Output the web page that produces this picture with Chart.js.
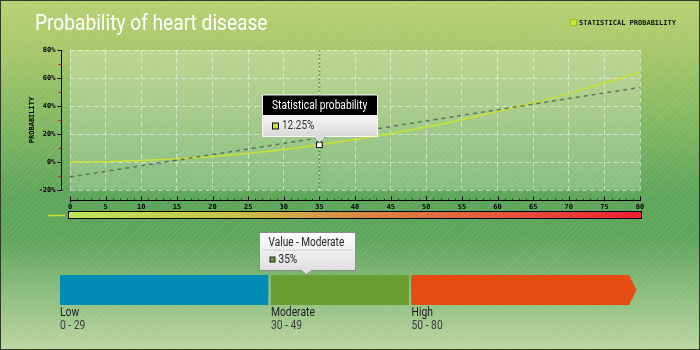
<!DOCTYPE html>
<html>
<head>
<meta charset="utf-8">
<script src="https://cdn.jsdelivr.net/npm/chart.js@4.4.0/dist/chart.umd.min.js"></script>
<style>
  html, body { margin: 0; padding: 0; }
  #wrap {
    position: relative; width: 700px; height: 350px; overflow: hidden;
    background:
      repeating-linear-gradient(135deg, rgba(255,255,255,0.07) 0 1px, rgba(255,255,255,0) 1px 4px),
      linear-gradient(to bottom, #b9d072 0%, #a6c86a 15%, #82b862 35%, #5ca55a 57%, #5ea55c 68%, #bcd6a2 100%);
    box-shadow: inset 0 0 0 1px #2e3a26;
  }
  #title {
    position: absolute; left: 35px; top: 10px; color: #fff;
    font: 22px Roboto, sans-serif; white-space: nowrap;
    transform: scaleX(0.87); transform-origin: left top;
  }
  #legend {
    position: absolute; left: 570px; top: 19px; white-space: nowrap;
    font: bold 7px "DejaVu Sans Mono", monospace; color: #111;
  }
  #legend i {
    display: inline-block; width: 5px; height: 5px; background: #c8e632;
    border: 1px solid #9fbb22; vertical-align: top; margin-right: 2px;
  }
  #legend span { vertical-align: top; line-height: 8px; }
  #c1 { position: absolute; left: 0; top: 0; }
  #c2 { position: absolute; left: 0; top: 230px; }
</style>
</head>
<body>
<div id="wrap">
  <canvas id="c1" width="700" height="230"></canvas>
  <canvas id="c2" width="700" height="120"></canvas>
  <div id="title">Probability of heart disease</div>
  <div id="legend"><i></i><span>STATISTICAL PROBABILITY</span></div>
</div>
<script>
// line chart data (age vs probability, %)
const probX = [0, 5, 10, 15, 20, 25, 30, 35, 40, 45, 50, 55, 60, 65, 70, 75, 80];
const probY = [0, 0.25, 1, 2.25, 4, 6.25, 9, 12.25, 16, 20.25, 25, 30.25, 36, 42.25, 49, 56.25, 64];
const trendX = [0, 80];
const trendY = [-10.7, 53.3];
const highlightX = 35;

// risk bands
const riskLevels = ['Low', 'Moderate', 'High'];
const riskRanges = ['0 - 29', '30 - 49', '50 - 80'];
const riskSpans = [30, 20, 31];
const currentValue = 35;
const currentLevel = 'Moderate';

const riskColors = ['#008cb4', '#6a9e32', '#e44c12'];
const lineColor = '#c8e232';

Chart.defaults.animation = false;

function condText(ctx, txt, x, y, size, color, sx, weight) {
  ctx.save();
  ctx.font = (weight || 'normal') + ' ' + size + 'px Roboto';
  ctx.fillStyle = color;
  ctx.textBaseline = 'alphabetic';
  ctx.textAlign = 'left';
  ctx.translate(x, y);
  ctx.scale(sx, 1);
  ctx.fillText(txt, 0, 0);
  ctx.restore();
}

const plotDeco = {
  id: 'plotDeco',
  beforeDraw(chart) {
    const a = chart.chartArea, ctx = chart.ctx;
    ctx.save();
    ctx.fillStyle = 'rgba(255,255,255,0.25)';
    ctx.fillRect(a.left, a.top, a.right - a.left, a.bottom - a.top);
    ctx.restore();
  },
  beforeDatasetsDraw(chart) {
    const a = chart.chartArea, ctx = chart.ctx;
    const px = Math.round(chart.scales.x.getPixelForValue(highlightX)) + 0.5;
    ctx.save();
    ctx.strokeStyle = 'rgba(60,95,50,0.6)';
    ctx.lineWidth = 1.5;
    ctx.setLineDash([2, 2]);
    ctx.beginPath();
    ctx.moveTo(px, a.top);
    ctx.lineTo(px, a.bottom);
    ctx.stroke();
    ctx.restore();
  },
  afterDraw(chart) {
    const ctx = chart.ctx, a = chart.chartArea;
    const xs = chart.scales.x, ys = chart.scales.y;
    ctx.save();
    ctx.lineWidth = 1;
    // y axis
    const ax = Math.round(a.left) - 9 + 0.5;
    ctx.strokeStyle = '#000';
    ctx.beginPath();
    ctx.moveTo(ax, ys.getPixelForValue(ys.max));
    ctx.lineTo(ax, ys.getPixelForValue(ys.min) + 0.5);
    ctx.stroke();
    ctx.font = 'bold 7px "DejaVu Sans Mono"';
    ctx.textAlign = 'right';
    ctx.textBaseline = 'middle';
    ctx.fillStyle = '#000';
    for (let v = ys.min; v <= ys.max; v += 10) {
      const py = Math.round(ys.getPixelForValue(v)) + 0.5;
      ctx.beginPath();
      if (v % 20 === 0) {
        ctx.strokeStyle = '#000';
        ctx.moveTo(ax - 4, py);
        ctx.lineTo(ax + 1, py);
        ctx.stroke();
        ctx.fillText(v + '%', ax - 6, py);
      } else {
        ctx.strokeStyle = '#e01010';
        ctx.moveTo(ax - 3, py);
        ctx.lineTo(ax, py);
        ctx.stroke();
      }
    }
    ctx.save();
    ctx.translate(32, (a.top + a.bottom) / 2);
    ctx.rotate(-Math.PI / 2);
    ctx.textAlign = 'center';
    ctx.fillText('PROBABILITY', 0, 0);
    ctx.restore();

    // x axis
    const ay = Math.round(a.bottom) + 10.5;
    const x0 = xs.getPixelForValue(xs.min), x1 = xs.getPixelForValue(xs.max);
    ctx.strokeStyle = '#000';
    ctx.beginPath();
    ctx.moveTo(x0, ay);
    ctx.lineTo(x1 + 1, ay);
    ctx.stroke();
    for (let v = xs.min; v <= xs.max; v++) {
      const px = Math.round(xs.getPixelForValue(v)) + 0.5;
      ctx.beginPath();
      if (v % 5 === 0) {
        ctx.moveTo(px, ay - 4);
        ctx.lineTo(px, ay + (v === 0 ? 2 : 0));
      } else {
        ctx.strokeStyle = 'rgba(0,0,0,0.6)';
        ctx.moveTo(px, ay - 2);
        ctx.lineTo(px, ay);
      }
      ctx.stroke();
      ctx.strokeStyle = '#000';
    }
    ctx.textAlign = 'center';
    ctx.textBaseline = 'middle';
    xs.ticks.forEach(t => {
      ctx.fillText(String(t.value), xs.getPixelForValue(t.value), ay + 6.5);
    });

    // gradient range bar
    const gy = ay + 11.5;
    const g = ctx.createLinearGradient(x0, 0, x1, 0);
    g.addColorStop(0, '#bde85a');
    g.addColorStop(0.3, '#c8bf4a');
    g.addColorStop(0.5, '#da8a44');
    g.addColorStop(0.75, '#e5593a');
    g.addColorStop(1, '#ee2030');
    ctx.fillStyle = g;
    ctx.fillRect(x0 - 1, gy, x1 - x0 + 2, 6);
    ctx.strokeStyle = '#000';
    ctx.strokeRect(Math.round(x0) - 1.5, gy - 0.5, Math.round(x1 - x0) + 3, 7);
    ctx.strokeStyle = lineColor;
    ctx.lineWidth = 1.5;
    ctx.beginPath();
    ctx.moveTo(48, gy + 3.5);
    ctx.lineTo(65, gy + 3.5);
    ctx.stroke();

    // tooltip on highlighted point
    const idx = probX.indexOf(highlightX);
    const pt = chart.getDatasetMeta(1).data[idx];
    const w = 115, hh = 20, bh = 21.5;
    const pX = Math.round(pt.x) + 0.5;
    const left = Math.round(pt.x - w / 2) + 0.5;
    const bottom = Math.round(pt.y - 9) + 0.5;
    const top = bottom - hh - bh;
    ctx.lineWidth = 1;
    ctx.beginPath();
    ctx.moveTo(left, top);
    ctx.lineTo(left + w, top);
    ctx.lineTo(left + w, bottom);
    ctx.lineTo(pX + 5, bottom);
    ctx.lineTo(pX, bottom + 5);
    ctx.lineTo(pX - 5, bottom);
    ctx.lineTo(left, bottom);
    ctx.closePath();
    const bg = ctx.createLinearGradient(0, top + hh, 0, bottom);
    bg.addColorStop(0, '#f6f6f6');
    bg.addColorStop(1, '#d9d9d9');
    ctx.fillStyle = bg;
    ctx.fill();
    ctx.fillStyle = '#000';
    ctx.fillRect(left, top, w, hh);
    ctx.strokeStyle = 'rgba(255,255,255,0.9)';
    ctx.stroke();
    condText(ctx, chart.data.datasets[1].label, left + 9.5, top + 14, 12, '#fff', 0.85);
    ctx.fillStyle = lineColor;
    ctx.fillRect(left + 10, top + hh + 8, 6, 6);
    ctx.strokeStyle = '#111';
    ctx.strokeRect(left + 10, top + hh + 8, 6, 6);
    condText(ctx, probY[idx] + '%', left + 19.5, top + hh + 14, 12, '#333', 0.83);
    ctx.restore();
  }
};

new Chart(document.getElementById('c1'), {
  type: 'line',
  data: {
    datasets: [
      {
        label: 'Trend',
        data: trendX.map((x, i) => ({ x: x, y: trendY[i] })),
        borderColor: 'rgba(70,80,65,0.7)',
        borderWidth: 1.5,
        borderDash: [4, 4],
        pointRadius: 0
      },
      {
        label: 'Statistical probability',
        data: probX.map((x, i) => ({ x: x, y: probY[i] })),
        borderColor: lineColor,
        borderWidth: 1.5,
        cubicInterpolationMode: 'monotone',
        pointStyle: 'rect',
        pointRadius: c => (probX[c.dataIndex] === highlightX ? 4 : 0),
        pointBackgroundColor: '#fff',
        pointBorderColor: '#000',
        pointBorderWidth: 1
      }
    ]
  },
  options: {
    responsive: false,
    devicePixelRatio: 1,
    layout: { padding: { left: 70, right: 60, top: 50, bottom: 40 } },
    plugins: { legend: { display: false }, tooltip: { enabled: false } },
    scales: {
      x: {
        type: 'linear', min: 0, max: 80,
        ticks: { display: false, stepSize: 5 },
        grid: { color: 'rgba(255,255,255,0.5)', drawTicks: false },
        border: { display: false, dash: [5, 3] }
      },
      y: {
        min: -20, max: 80,
        ticks: { display: false, stepSize: 20 },
        grid: { color: 'rgba(255,255,255,0.5)', drawTicks: false },
        border: { display: false, dash: [5, 3] }
      }
    }
  },
  plugins: [plotDeco]
});

const bandDeco = {
  id: 'bandDeco',
  afterDatasetsDraw(chart) {
    const ctx = chart.ctx;
    ctx.save();
    // arrow tip on last band
    const last = chart.getDatasetMeta(riskLevels.length - 1).data[0];
    const top = last.y - last.height / 2, bot = last.y + last.height / 2;
    ctx.fillStyle = riskColors[riskLevels.length - 1];
    ctx.beginPath();
    ctx.moveTo(last.x - 0.5, top);
    ctx.lineTo(last.x + 7, last.y);
    ctx.lineTo(last.x - 0.5, bot);
    ctx.closePath();
    ctx.fill();
    // labels under bands
    riskLevels.forEach((lvl, i) => {
      const el = chart.getDatasetMeta(i).data[0];
      condText(ctx, lvl, el.base, bot + 11, 12, '#1c1c1c', 0.86);
      condText(ctx, riskRanges[i], el.base, bot + 24, 12, '#3c3c3c', 0.86);
    });
    // tooltip for the current value
    const px = Math.round(chart.scales.x.getPixelForValue(currentValue)) + 0.5;
    const w = 96, h = 38;
    const left = Math.round(px - w / 2) + 0.5;
    const bottom = Math.round(top - 5) + 0.5;
    const tTop = bottom - h;
    ctx.beginPath();
    ctx.moveTo(left, tTop);
    ctx.lineTo(left + w, tTop);
    ctx.lineTo(left + w, bottom);
    ctx.lineTo(px + 5, bottom);
    ctx.lineTo(px, bottom + 4);
    ctx.lineTo(px - 5, bottom);
    ctx.lineTo(left, bottom);
    ctx.closePath();
    const g = ctx.createLinearGradient(0, tTop, 0, bottom);
    g.addColorStop(0, '#fdfdfd');
    g.addColorStop(1, '#e0e0e0');
    ctx.fillStyle = g;
    ctx.fill();
    ctx.strokeStyle = '#8a8a8a';
    ctx.lineWidth = 1;
    ctx.stroke();
    ctx.strokeStyle = '#cfcfcf';
    ctx.beginPath();
    ctx.moveTo(left + 3, tTop + 17.5);
    ctx.lineTo(left + w - 3, tTop + 17.5);
    ctx.stroke();
    condText(ctx, 'Value - ' + currentLevel, left + 9, tTop + 13.5, 12, '#222', 0.84);
    const ci = riskLevels.indexOf(currentLevel);
    ctx.fillStyle = riskColors[ci];
    ctx.fillRect(left + 10.5, tTop + 24.5, 5, 5);
    ctx.strokeStyle = '#222';
    ctx.strokeRect(left + 10.5, tTop + 24.5, 5, 5);
    condText(ctx, currentValue + '%', left + 19, tTop + 30.5, 12, '#222', 0.84);
    ctx.restore();
  }
};

new Chart(document.getElementById('c2'), {
  type: 'bar',
  data: {
    labels: [''],
    datasets: riskLevels.map((lvl, i) => ({
      label: lvl,
      data: [riskSpans[i]],
      backgroundColor: riskColors[i],
      borderColor: 'rgba(0,0,0,0)',
      borderWidth: i < riskLevels.length - 1 ? { top: 0, right: 3, bottom: 0, left: 0 } : 0,
      borderSkipped: false,
      barPercentage: 1,
      categoryPercentage: 1
    }))
  },
  options: {
    indexAxis: 'y',
    responsive: false,
    devicePixelRatio: 1,
    layout: { padding: { left: 60, right: 70.5, top: 45, bottom: 45 } },
    plugins: { legend: { display: false }, tooltip: { enabled: false } },
    scales: {
      x: { stacked: true, min: 0, max: 81, display: false },
      y: { stacked: true, display: false }
    }
  },
  plugins: [bandDeco]
});
</script>
</body>
</html>
